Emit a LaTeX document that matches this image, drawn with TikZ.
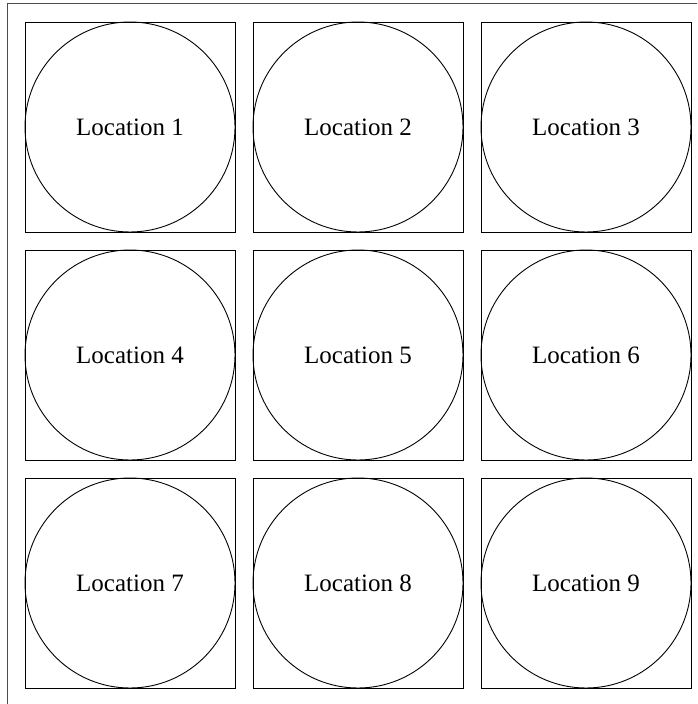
\documentclass[tikz,border=0pt]{standalone}
\usepackage{fontspec}
\setmainfont{Liberation Serif}
\begin{document}
\begin{tikzpicture}[x=1pt,y=1pt,
  sq/.style={draw=black,line width=0.9pt,minimum size=210pt,inner sep=0pt,outer sep=0pt},
  loc/.style={draw=black,line width=0.9pt,circle,minimum size=210pt,inner sep=0pt,font=\fontsize{25}{30}\selectfont},
  frame/.style={draw=black!70,line width=1pt}]
\useasboundingbox (0,0) rectangle (697,704);
\clip (0,0) rectangle (697,704);
\draw[frame] (7,-20) rectangle (720,700);
\foreach \r in {0,1,2}{
  \foreach \c in {0,1,2}{
    \pgfmathtruncatemacro{\n}{\r*3+\c+1}
    \node[sq] (s\n) at ({130+228*\c},{704-127-228*\r}) {};
    \node[loc] (c\n) at (s\n.center) {Location \n};
  }
}
\end{tikzpicture}
\end{document}
